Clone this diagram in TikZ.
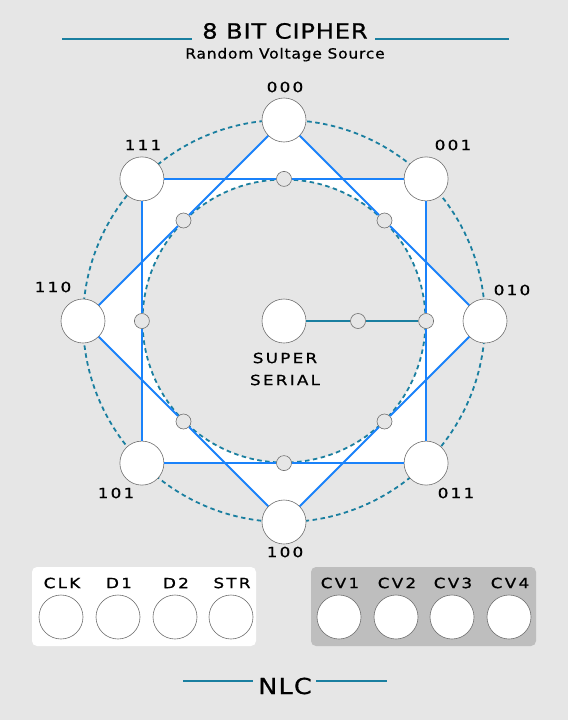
\documentclass[tikz,border=0pt]{standalone}
\usepackage{fontspec}
\usetikzlibrary{calc}
\setmainfont{DejaVu Sans}
\newfontfamily\tfont[LetterSpace=4,FakeStretch=1.15,FakeBold=0.8]{DejaVu Sans}
\newfontfamily\lfont[LetterSpace=16,FakeStretch=1.2,FakeBold=0.8]{DejaVu Sans}
\newfontfamily\sfont[LetterSpace=6,FakeStretch=1.1,FakeBold=0.8]{DejaVu Sans}
\newfontfamily\nfont[LetterSpace=6,FakeStretch=1.15,FakeBold=0.8]{DejaVu Sans}
\definecolor{bg}{HTML}{E6E6E6}
\definecolor{bl}{HTML}{1A82FA}
\definecolor{tl}{HTML}{1A7FA0}
\definecolor{circ}{HTML}{707070}
\definecolor{boxg}{HTML}{BEBEBE}
\begin{document}
\begin{tikzpicture}[x=1pt,y=-1pt,
  big/.style={circle,draw=circ,line width=0.6pt,fill=white,minimum size=44pt,inner sep=0pt},
  small/.style={circle,draw=circ,line width=0.6pt,fill=bg,minimum size=15pt,inner sep=0pt},
  blueln/.style={draw=bl,line width=1.8pt},
  tealln/.style={draw=tl,line width=1.6pt},
  dashring/.style={draw=tl,line width=1.8pt,dash pattern=on 4.5pt off 3.5pt},
  lab/.style={font=\lfont\fontsize{14}{14}\selectfont,inner sep=0pt,text=black},
  jlab/.style={font=\lfont\fontsize{14}{14}\selectfont,inner sep=0pt,text=black},
]
\useasboundingbox[fill=bg] (0,0) rectangle (568,720);

% positions
\coordinate (c) at (284,321);
\coordinate (p000) at (284,120);
\coordinate (p100) at (284,522);
\coordinate (p110) at (83,321);
\coordinate (p010) at (485,321);
\coordinate (p111) at (141.9,178.9);
\coordinate (p001) at (426.1,178.9);
\coordinate (p101) at (141.9,463.1);
\coordinate (p011) at (426.1,463.1);

% star fill
\fill[white] (p111) -- (p001) -- (p011) -- (p101) -- cycle;
\fill[white] (p000) -- (p010) -- (p100) -- (p110) -- cycle;
\fill[bg] (c) circle (141.5pt);

% dashed rings
\draw[dashring] (c) circle (201pt);
\draw[dashring] (c) circle (141.5pt);

% big nodes
\node[big] (n000) at (p000) {};
\node[big] (n001) at (p001) {};
\node[big] (n010) at (p010) {};
\node[big] (n011) at (p011) {};
\node[big] (n100) at (p100) {};
\node[big] (n101) at (p101) {};
\node[big] (n110) at (p110) {};
\node[big] (n111) at (p111) {};
\node[big] (cen) at (c) {};

% small nodes (edge midpoints)
\node[small] (mT) at ($(p111)!0.5!(p001)$) {};
\node[small] (mR) at ($(p001)!0.5!(p011)$) {};
\node[small] (mB) at ($(p011)!0.5!(p101)$) {};
\node[small] (mL) at ($(p101)!0.5!(p111)$) {};
\node[small] (dNE) at ($(p000)!0.5!(p010)$) {};
\node[small] (dSE) at ($(p010)!0.5!(p100)$) {};
\node[small] (dSW) at ($(p100)!0.5!(p110)$) {};
\node[small] (dNW) at ($(p110)!0.5!(p000)$) {};
\node[small] (mC) at (358,321) {};

% square
\draw[blueln] (n111) -- (mT) -- (n001);
\draw[blueln] (n001) -- (mR) -- (n011);
\draw[blueln] (n011) -- (mB) -- (n101);
\draw[blueln] (n101) -- (mL) -- (n111);
% diamond
\draw[blueln] (n000) -- (dNE) -- (n010);
\draw[blueln] (n010) -- (dSE) -- (n100);
\draw[blueln] (n100) -- (dSW) -- (n110);
\draw[blueln] (n110) -- (dNW) -- (n000);
% center connector
\draw[tealln] (cen) -- (mC) -- (mR);

% labels
\node[lab] (l000) at (285,87) {000};
\node[lab] (l111) at (143,145) {111};
\node[lab] (l001) at (453,145) {001};
\node[lab] (l110) at (53,287) {110};
\node[lab] (l010) at (512,290) {010};
\node[lab] (l101) at (116,493) {101};
\node[lab] (l011) at (456,493) {011};
\node[lab] (l100) at (285,552) {100};
\node[lab] (ls1) at (285,358) {SUPER};
\node[lab] (ls2) at (285,380) {SERIAL};

% title
\node[font=\tfont\fontsize{21}{21}\selectfont,inner sep=0pt] (title) at (285,31) {8 BIT CIPHER};
\draw[tl,line width=1.5pt] (62,39) -- (192,39);
\draw[tl,line width=1.5pt] (375,39) -- (509,39);
\node[font=\sfont\fontsize{14}{14}\selectfont,inner sep=0pt,anchor=base] (sub) at (285,58.5) {Random Voltage Source};

% bottom boxes
\fill[white,rounded corners=5pt] (32,567) rectangle (256,646);
\fill[boxg,rounded corners=5pt] (311,567) rectangle (536,646);
\node[big] (jclk) at (61,617) {};
\node[big] (jd1) at (118,617) {};
\node[big] (jd2) at (175,617) {};
\node[big] (jstr) at (231,617) {};
\node[big] (jcv1) at (339,617) {};
\node[big] (jcv2) at (396,617) {};
\node[big] (jcv3) at (452,617) {};
\node[big] (jcv4) at (509,617) {};
\node[jlab] (lclk) at (62,583) {CLK};
\node[jlab] (ld1) at (119,583) {D1};
\node[jlab] (ld2) at (176,583) {D2};
\node[jlab] (lstr) at (232,583) {STR};
\node[jlab] (lcv1) at (340,583) {CV1};
\node[jlab] (lcv2) at (397,583) {CV2};
\node[jlab] (lcv3) at (453,583) {CV3};
\node[jlab] (lcv4) at (510,583) {CV4};

% footer
\node[font=\nfont\fontsize{22}{22}\selectfont,inner sep=0pt] (nlc) at (285,686) {NLC};
\draw[tl,line width=1.5pt] (183,681) -- (253,681);
\draw[tl,line width=1.5pt] (316,681) -- (387,681);
\end{tikzpicture}
\end{document}
